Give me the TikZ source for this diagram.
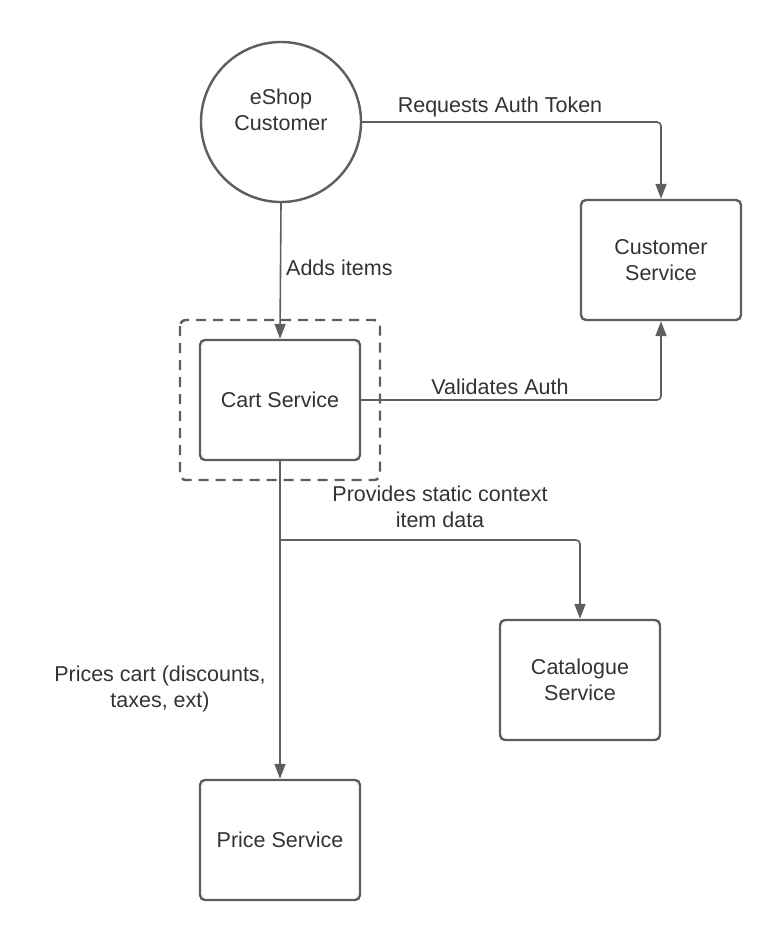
\documentclass[tikz,border=0pt]{standalone}
\usepackage{fontspec}
\setmainfont{Liberation Sans}
\usetikzlibrary{arrows.meta}
\definecolor{linec}{HTML}{5E5E5E}
\definecolor{textc}{HTML}{333333}
\begin{document}
\begin{tikzpicture}[x=1pt,y=-1pt,
  txt/.style={text=textc,font=\fontsize{21.5}{26.5}\selectfont,align=center,inner sep=0pt},
  svc/.style={txt,draw=linec,line width=2.4pt,rounded corners=5pt,minimum width=160pt,minimum height=120pt},
  cust/.style={draw=linec,line width=2.4pt,circle,minimum size=160pt,inner sep=0pt},
  conn/.style={draw=linec,line width=1.6pt,rounded corners=4pt,-{Triangle[length=15pt,width=11pt]}},
  lbl/.style={txt},
  grp/.style={draw=linec,line width=2.4pt,dash pattern=on 10pt off 7pt,rounded corners=6pt}
]
\useasboundingbox[fill=white] (0,0) rectangle (780,940);
\node[cust] (eshop) at (281,122) {};
\node[txt] (eshoptext) at (281,110) {eShop\\Customer};
\node[svc] (custsvc) at (661,260) {Customer\\Service};
\node[svc] (cart) at (280,400) {Cart Service};
\node[svc] (cat) at (580,680) {Catalogue\\Service};
\node[svc] (price) at (280,840) {Price Service};
\draw[grp] (180,320) rectangle (380,480);
\coordinate (branch) at (280,540);
\draw[conn] (eshop.south) -- (cart.north);
\draw[conn] (eshop.east) -| (custsvc.north);
\draw[conn] (cart.east) -| (custsvc.south);
\draw[conn] (cart.south) -- (price.north);
\draw[conn] (branch) -| (cat.north);
\node[lbl,anchor=west] (l1) at (286,268) {Adds items};
\node[lbl] (l2) at (500,107) {Requests Auth Token};
\node[lbl] (l3) at (500,387) {Validates Auth};
\node[lbl] (l4) at (440,507) {Provides static context\\item data};
\node[lbl] (l5) at (160,689) {Prices cart (discounts,\\taxes, ext)};
\end{tikzpicture}
\end{document}
